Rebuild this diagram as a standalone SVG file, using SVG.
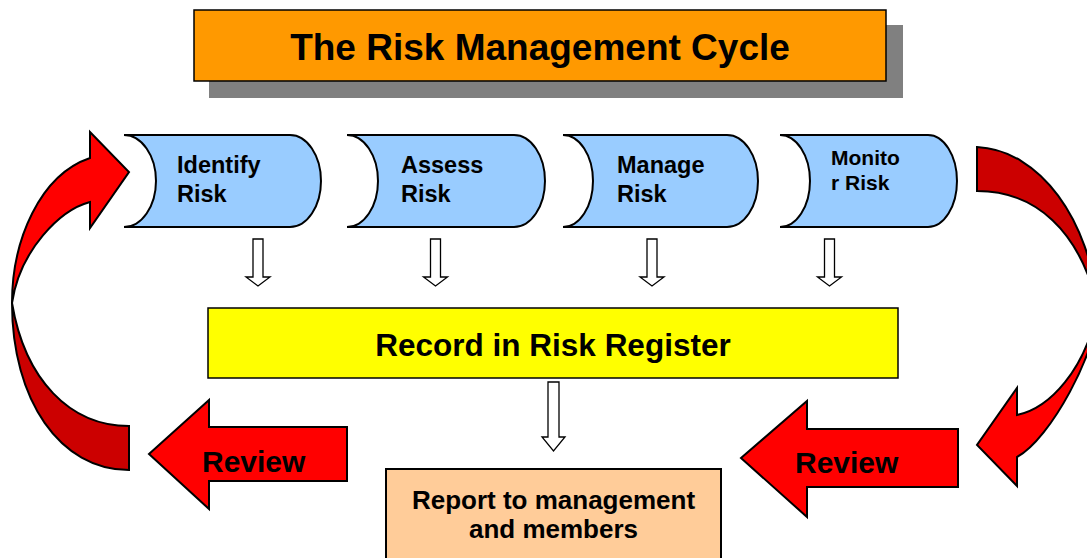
<svg xmlns="http://www.w3.org/2000/svg" width="1087" height="558" viewBox="0 0 1087 558">
<style>
.lbl{font-family:"Liberation Sans",Arial,sans-serif;font-weight:bold;fill:#000}
.step{fill:#99CCFF;stroke:#000;stroke-width:2}
.hollow{fill:#fff;stroke:#000;stroke-width:1.3}
.red{fill:#FF0000;stroke:#000;stroke-width:2;stroke-linejoin:miter}
.dark{fill:#CC0000;stroke:#000;stroke-width:2}
</style>
<rect width="1087" height="558" fill="#fff"/>
<g id="title">
<rect x="209" y="25" width="694" height="73" fill="#808080"/>
<rect x="194" y="10" width="692" height="71" fill="#FF9900" stroke="#000" stroke-width="1.5"/>
<text class="lbl" x="540" y="60" font-size="37" text-anchor="middle">The Risk Management Cycle</text>
</g>
<g id="identify">
<path class="step" d="M124,135 L290,135 A31,46 0 0 1 290,227 L124,227 A32,46 0 0 0 124,135 Z"/>
<text class="lbl" font-size="23.5"><tspan x="177" y="173">Identify</tspan><tspan x="177" y="202">Risk</tspan></text>
</g>
<g id="assess">
<path class="step" d="M347,135 L514,135 A31,46 0 0 1 514,227 L347,227 A31,46 0 0 0 347,135 Z"/>
<text class="lbl" font-size="23.5"><tspan x="401" y="173">Assess</tspan><tspan x="401" y="202">Risk</tspan></text>
</g>
<g id="manage">
<path class="step" d="M563,135 L727,135 A31,46 0 0 1 727,227 L563,227 A30,46 0 0 0 563,135 Z"/>
<text class="lbl" font-size="23.5"><tspan x="617" y="173">Manage</tspan><tspan x="617" y="202">Risk</tspan></text>
</g>
<g id="monitor">
<path class="step" d="M780,135 L928,135 A29,46 0 0 1 928,227 L780,227 A30,46 0 0 0 780,135 Z"/>
<text class="lbl" font-size="21"><tspan x="831" y="165">Monito</tspan><tspan x="831" y="190">r Risk</tspan></text>
</g>
<g id="register">
<rect x="208" y="308" width="690" height="70" fill="#FFFF00" stroke="#000" stroke-width="1.5"/>
<text class="lbl" x="553" y="356" font-size="31.5" text-anchor="middle">Record in Risk Register</text>
</g>
<g id="report">
<rect x="386" y="469" width="335" height="100" fill="#FFCC99" stroke="#000" stroke-width="2"/>
<text class="lbl" font-size="26" text-anchor="middle"><tspan x="553.5" y="509">Report to management</tspan><tspan x="553.5" y="538">and members</tspan></text>
</g>
<g id="review-left">
<path class="red" d="M149,454 L209,400 L209,427 L347,427 L347,481 L209,481 L209,509 Z"/>
<text class="lbl" x="202" y="472" font-size="30">Review</text>
</g>
<g id="review-right">
<path class="red" d="M741,458 L807,401 L807,429 L958,429 L958,487 L807,487 L807,517 Z"/>
<text class="lbl" x="795" y="473" font-size="30">Review</text>
</g>
<g id="cycle-left">
<path class="dark" d="M12,303 C12,400 60,470 129,470 L129,426 C70,426 25,380 12,303 Z"/>
<path class="red" d="M90,158 L90,132 L129,172 L90,228 L90,202 C60,210 20,250 12,303 C12,240 40,175 90,158 Z"/>
</g>
<g id="cycle-right">
<path class="dark" d="M977,147 C1040,150 1090,220 1098,308 C1080,230 1035,191 977,191 Z"/>
<path class="red" d="M1017,415 L1017,388 L977,445 L1017,486 L1017,457 C1050,440 1098,350 1098,308 C1085,370 1050,408 1017,415 Z"/>
</g>
<g id="connectors">
<path class="hollow" d="M253,239 H263 V277 H270 L258,286 L246,277 H253 Z"/>
<path class="hollow" d="M430.5,239 H440.5 V277 H447.5 L435.5,286 L423.5,277 H430.5 Z"/>
<path class="hollow" d="M647,239 H657 V277 H664 L652,286 L640,277 H647 Z"/>
<path class="hollow" d="M824.5,239 H834.5 V277 H841.5 L829.5,286 L817.5,277 H824.5 Z"/>
<path class="hollow" d="M548,382 H559 V437 H565 L553.5,451 L542,437 H548 Z"/>
</g>
</svg>
